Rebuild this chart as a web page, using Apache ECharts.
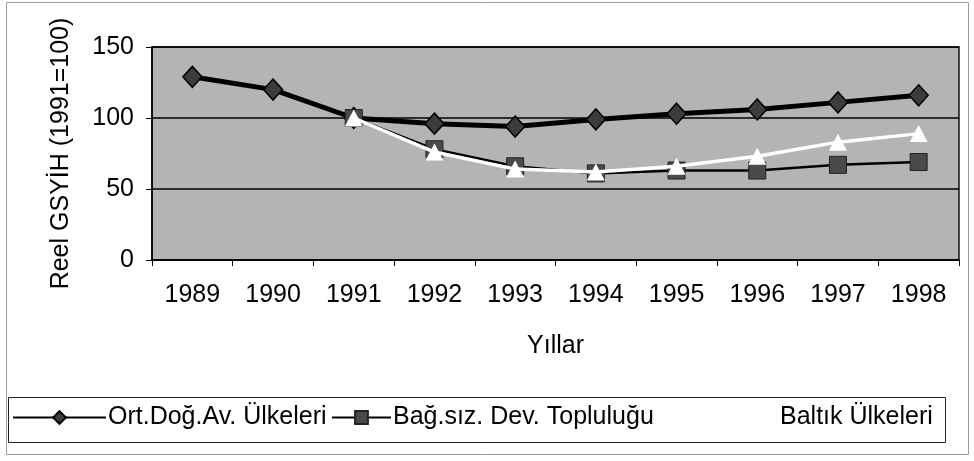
<!DOCTYPE html>
<html>
<head>
<meta charset="utf-8">
<script src="https://cdn.jsdelivr.net/npm/echarts@6/dist/echarts.min.js"></script>
<style>
  html, body { margin: 0; padding: 0; background: #fff; }
  #chart { width: 974px; height: 461px; }
</style>
</head>
<body>
<div id="chart"></div>
<script>
// 資料
const years    = ['1989', '1990', '1991', '1992', '1993', '1994', '1995', '1996', '1997', '1998']
const ortDogu  = [129, 120, 100, 96, 94, 99, 103, 106, 111, 116]
const bagimsiz = [null, null, 100, 78, 66, 61, 63, 63, 67, 69]
const baltik   = [null, null, 100, 76, 64, 62, 66, 73, 83, 89]
const yTicks   = { min: 0, max: 150, interval: 50 }

const FONT = 'Liberation Sans, Arial, sans-serif'
const FS   = 25

const chart = echarts.init(document.getElementById('chart'))

chart.setOption({
  animation: false,
  textStyle: { fontFamily: FONT },
  grid: {
    left: 152, right: 15, top: 47, bottom: 201,
    show: true,
    backgroundColor: '#b4b4b4',
    borderColor: '#111',
    borderWidth: 1.5,
  },
  xAxis: {
    type: 'category',
    data: years,
    boundaryGap: true,
    name: 'Yıllar',
    nameLocation: 'middle',
    nameGap: 74,
    nameTextStyle: { fontSize: FS, color: '#000', fontFamily: FONT },
    axisLine: { lineStyle: { color: '#000', width: 1.5 } },
    axisTick: { show: true, length: 6, lineStyle: { color: '#000' } },
    axisLabel: { fontSize: FS, color: '#000', margin: 23, fontFamily: FONT },
  },
  yAxis: {
    type: 'value',
    min: yTicks.min, max: yTicks.max, interval: yTicks.interval,
    name: 'Reel GSYİH (1991=100)',
    nameLocation: 'middle',
    nameGap: 78,
    nameTextStyle: { fontSize: FS, color: '#000', fontFamily: FONT },
    axisLine: { show: true, lineStyle: { color: '#000', width: 1.5 } },
    axisTick: { show: true, length: 6, lineStyle: { color: '#000' } },
    axisLabel: { fontSize: FS, color: '#000', margin: 18, fontFamily: FONT },
    splitLine: { lineStyle: { color: '#000', width: 1.5 } },
  },
  // 圖例：三個獨立的 legend，外框用 graphic 畫
  legend: [
    {
      data: ['Ort.Doğ.Av. Ülkeleri'],
      left: 12, top: 405, padding: 0,
      itemWidth: 93, itemHeight: 16, itemGap: 0,
      lineStyle: { width: 2 },
      textStyle: { fontSize: FS, color: '#000', padding: [0, 0, 0, -3] },
    },
    {
      data: ['Bağ.sız. Dev. Topluluğu'],
      left: 331, top: 405, padding: 0,
      itemWidth: 59, itemHeight: 16, itemGap: 0,
      lineStyle: { width: 2 },
      textStyle: { fontSize: FS, color: '#000', padding: [0, 0, 0, -3] },
    },
    {
      data: ['Baltık Ülkeleri'],
      left: 700, top: 405, padding: 0,
      itemWidth: 76, itemHeight: 16, itemGap: 0,
      textStyle: { fontSize: FS, color: '#000', padding: [0, 0, 0, -2] },
    },
  ],
  graphic: [
    {
      type: 'rect', silent: true, z: -10,
      shape: { x: 6.5, y: 2.5, width: 962, height: 452 },
      style: { fill: 'none', stroke: '#9a9a9a', lineWidth: 1 },
    },
    {
      type: 'rect', silent: true, z: -5,
      shape: { x: 8.5, y: 397.5, width: 937, height: 45 },
      style: { fill: '#fff', stroke: '#222', lineWidth: 1 },
    },
  ],
  series: [
    {
      name: 'Ort.Doğ.Av. Ülkeleri',
      type: 'line',
      data: ortDogu,
      symbol: 'diamond',
      symbolSize: [19, 21],
      lineStyle: { color: '#000', width: 5 },
      itemStyle: { color: '#3c3c3c', borderColor: '#000', borderWidth: 1.5 },
      z: 2,
    },
    {
      name: 'Bağ.sız. Dev. Topluluğu',
      type: 'line',
      data: bagimsiz,
      symbol: 'rect',
      symbolSize: 17,
      lineStyle: { color: '#000', width: 2.5 },
      itemStyle: { color: '#4a4a4a', borderColor: '#222', borderWidth: 1 },
      z: 3,
    },
    {
      name: 'Baltık Ülkeleri',
      type: 'line',
      data: baltik,
      symbol: 'triangle',
      symbolSize: [18, 17],
      lineStyle: { color: '#fff', width: 3.5 },
      itemStyle: { color: '#fff', borderColor: '#fff', borderWidth: 0 },
      z: 4,
    },
  ],
})
</script>
</body>
</html>
